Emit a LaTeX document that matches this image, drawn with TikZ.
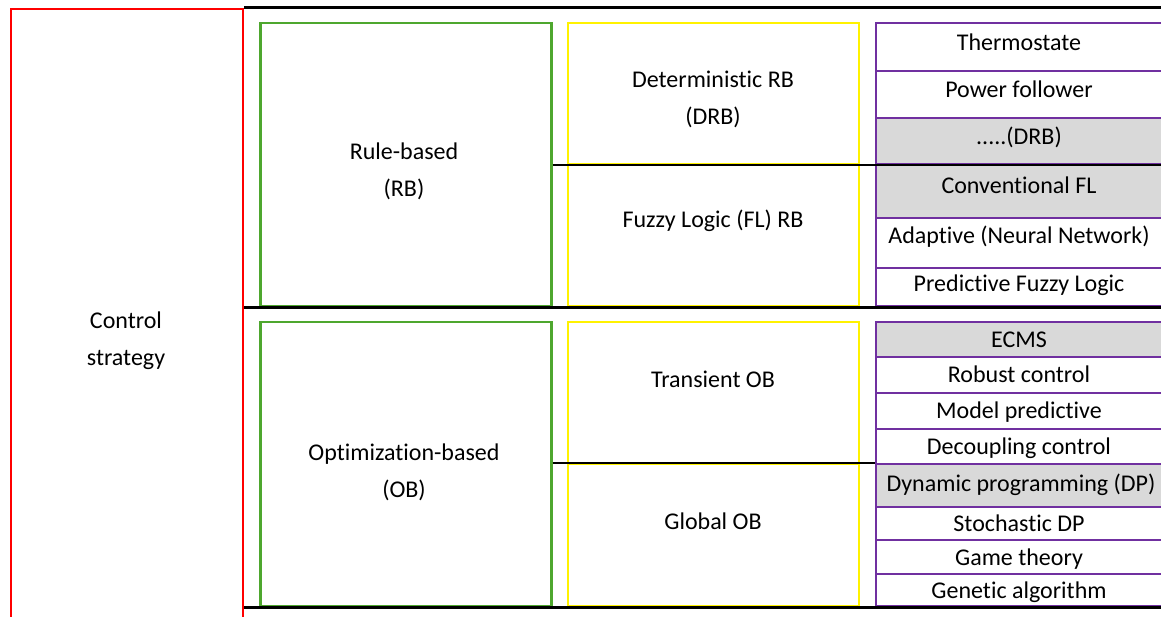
\documentclass[tikz,border=0pt]{standalone}
\usepackage{fontspec}
\setmainfont{Carlito}[Ligatures={NoCommon}]
\definecolor{cgreen}{RGB}{78,167,46}
\definecolor{cpurple}{RGB}{112,48,160}
\definecolor{cgray}{RGB}{217,217,217}
\begin{document}
\begin{tikzpicture}[x=1pt,y=-1pt,
  lbl/.style={font=\fontsize{24}{37}\selectfont, align=center, inner sep=0pt},
  ctext/.style={font=\fontsize{24}{37}\selectfont, inner sep=0pt, anchor=base},
  redbox/.style={draw=red, line width=2pt, inner sep=0pt, anchor=north west, minimum width=232pt, minimum height=700pt},
  gbox/.style={draw=cgreen, line width=2.5pt, inner sep=0pt, anchor=north west, minimum width=291pt},
  ybox/.style={draw=yellow, line width=2pt, inner sep=0pt, anchor=north west, minimum width=291pt},
  cell/.style={draw=cpurple, line width=2pt, inner sep=0pt, anchor=north west, minimum width=300pt},
  shade/.style={fill=cgray},
  sep/.style={draw=black, line width=3pt},
  thinsep/.style={draw=black, line width=2pt}
]
\useasboundingbox (0,0) rectangle (1161,617);
\clip (0,0) rectangle (1161,617);
\fill[white] (0,0) rectangle (1161,617);

% red column
\node[redbox] (r) at (10,8) {};
\node[lbl] (tcs) at (126,341) {Control\\strategy};

% green boxes
\node[gbox, minimum height=283pt] (g1) at (259,22) {};
\node[gbox, minimum height=284pt] (g2) at (259,321) {};
\node[lbl] (trb) at (404,171) {Rule-based\\(RB)};
\node[lbl] (tob) at (404,472) {Optimization-based\\(OB)};

% yellow boxes
\node[ybox, minimum height=141pt] (y1) at (567,22) {};
\node[ybox, minimum height=142pt] (y2) at (567,163) {};
\node[ybox, minimum height=142pt] (y3) at (567,321) {};
\node[ybox, minimum height=142pt] (y4) at (567,463) {};
\node[lbl] (tdrb) at (713,99) {Deterministic RB\\(DRB)};
\node[lbl] (tfl) at (713,221) {Fuzzy Logic (FL) RB};
\node[lbl] (ttob) at (713,379) {Transient OB};
\node[lbl] (tgob) at (713,521) {Global OB};

% purple cells, RB
\node[cell, minimum height=48pt] (p1) at (875,22) {};
\node[cell, minimum height=47pt] (p2) at (875,70) {};
\node[cell, shade, minimum height=46pt] (p3) at (875,117) {};
\node[cell, shade, minimum height=54pt] (p4) at (875,163) {};
\node[cell, minimum height=50pt] (p5) at (875,217) {};
\node[cell, minimum height=38pt] (p6) at (875,267) {};
\node[ctext] (tp1) at (1019,50.5) {Thermostate};
\node[ctext] (tp2) at (1019,97.3) {Power follower};
\node[ctext] (tp3) at (1019,145) {.....(DRB)};
\node[ctext] (tp4) at (1019,193.3) {Conventional FL};
\node[ctext] (tp5) at (1019,243.3) {Adaptive (Neural Network)};
\node[ctext] (tp6) at (1019,291.7) {Predictive Fuzzy Logic};

% purple cells, OB
\node[cell, shade, minimum height=35pt] (q1) at (875,321) {};
\node[cell, minimum height=36pt] (q2) at (875,356) {};
\node[cell, minimum height=36pt] (q3) at (875,392) {};
\node[cell, minimum height=35pt] (q4) at (875,428) {};
\node[cell, shade, minimum height=43pt] (q5) at (875,463) {};
\node[cell, minimum height=33pt] (q6) at (875,506) {};
\node[cell, minimum height=34pt] (q7) at (875,539) {};
\node[cell, minimum height=32pt] (q8) at (875,573) {};
\node[ctext] (tq1) at (1019,347.3) {ECMS};
\node[ctext] (tq2) at (1019,382) {Robust control};
\node[ctext] (tq3) at (1019,418) {Model predictive};
\node[ctext] (tq4) at (1019,454.7) {Decoupling control};
\node[ctext] (tq5) at (1021,491.3) {Dynamic programming (DP)};
\node[ctext] (tq6) at (1019,531.3) {Stochastic DP};
\node[ctext] (tq7) at (1019,565.3) {Game theory};
\node[ctext] (tq8) at (1019,598.7) {Genetic algorithm};

% separators
\coordinate (e) at (1165,8);
\draw[sep] (r.north east) -- (e);
\draw[sep] (r.north east |- g1.south) -- (e |- g1.south);
\draw[sep] (r.north east |- g2.south) -- (e |- g2.south);
\draw[thinsep] (g1.east |- y1.south) -- (e |- y1.south);
\draw[thinsep] (g2.east |- y4.north) -- (q5.north west);
\end{tikzpicture}
\end{document}
